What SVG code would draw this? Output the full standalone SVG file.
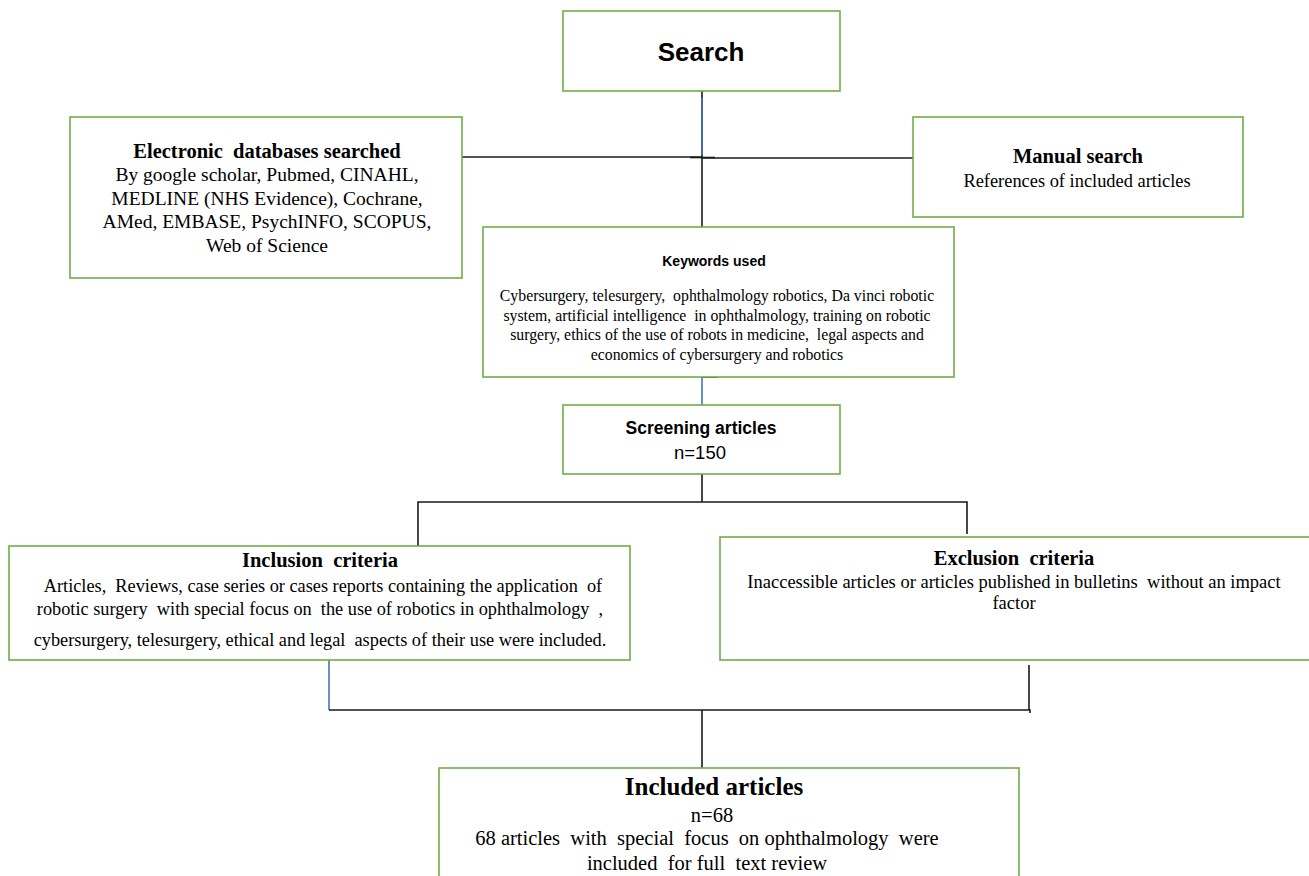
<svg xmlns="http://www.w3.org/2000/svg" width="1309" height="876" viewBox="0 0 1309 876">
  <style>
    .box { fill: #ffffff; stroke: #70ad47; stroke-width: 1.6; }
    .ln { stroke: #1a1a1a; stroke-width: 1.6; fill: none; }
    .blue { stroke: #4472c4; stroke-width: 1.6; fill: none; }
    .sans { font-family: "Liberation Sans", Arial, sans-serif; fill: #000; text-anchor: middle; }
    .serif { font-family: "Liberation Serif", "Times New Roman", serif; fill: #000; text-anchor: middle; }
    .b { font-weight: bold; }
  </style>
  <rect x="0" y="0" width="1309" height="876" fill="#ffffff"/>

  <g id="connectors">
    <line class="ln" x1="702" y1="91" x2="702" y2="227"/>
    <line class="blue" x1="702" y1="98" x2="702" y2="155"/>
    <line class="ln" x1="462" y1="157" x2="702" y2="157"/>
    <line class="ln" x1="702" y1="158" x2="913" y2="158"/>
    <line class="ln" x1="690" y1="157.5" x2="715" y2="157.5" stroke-width="2.4"/>
    <line class="blue" x1="702" y1="377" x2="702" y2="405"/>
    <line class="ln" x1="702" y1="377" x2="718" y2="377"/>
    <polyline class="ln" points="702,474 702,502"/>
    <polyline class="ln" points="418,546 418,502 967,502 967,534"/>
    <line class="blue" x1="329" y1="660" x2="329" y2="710"/>
    <polyline class="ln" points="329,710 1030,710 1030,713"/>
    <line class="ln" x1="1029" y1="665" x2="1029" y2="710"/>
    <line class="ln" x1="702" y1="710" x2="702" y2="768"/>
  </g>

  <g id="search">
    <rect class="box" x="563" y="11" width="277" height="80"/>
    <text class="sans b" x="701" y="61" font-size="26">Search</text>
  </g>

  <g id="electronic">
    <rect class="box" x="70" y="117" width="392" height="161"/>
    <text class="serif b" x="267" y="158" font-size="20.5" xml:space="preserve">Electronic  databases searched</text>
    <text class="serif" x="267" y="181" font-size="19.5">By google scholar, Pubmed, CINAHL,</text>
    <text class="serif" x="267" y="205" font-size="19.5">MEDLINE (NHS Evidence), Cochrane,</text>
    <text class="serif" x="267" y="228" font-size="19.5">AMed, EMBASE, PsychINFO, SCOPUS,</text>
    <text class="serif" x="267" y="252" font-size="19.5">Web of Science</text>
  </g>

  <g id="manual">
    <rect class="box" x="913" y="117" width="330" height="100"/>
    <text class="serif b" x="1078" y="163" font-size="20.5">Manual search</text>
    <text class="serif" x="1077" y="187" font-size="18.4">References of included articles</text>
  </g>

  <g id="keywords">
    <rect class="box" x="483" y="227" width="471" height="150"/>
    <text class="sans b" x="714" y="266" font-size="14">Keywords used</text>
    <text class="serif" x="717" y="301" font-size="15.8" xml:space="preserve">Cybersurgery, telesurgery,  ophthalmology robotics, Da vinci robotic</text>
    <text class="serif" x="717" y="321" font-size="15.8" xml:space="preserve">system, artificial intelligence  in ophthalmology, training on robotic</text>
    <text class="serif" x="717" y="340" font-size="15.8" xml:space="preserve">surgery, ethics of the use of robots in medicine,  legal aspects and</text>
    <text class="serif" x="717" y="360" font-size="15.8">economics of cybersurgery and robotics</text>
  </g>

  <g id="screening">
    <rect class="box" x="563" y="405" width="277" height="69"/>
    <text class="sans b" x="701" y="434" font-size="17.5">Screening articles</text>
    <text class="sans" x="700" y="459" font-size="18.5">n=150</text>
  </g>

  <g id="inclusion">
    <rect class="box" x="9" y="546" width="621" height="114"/>
    <text class="serif b" x="320" y="567" font-size="20.5" xml:space="preserve">Inclusion  criteria</text>
    <text class="serif" x="323" y="592" font-size="18.3" xml:space="preserve">Articles,  Reviews, case series or cases reports containing the application  of</text>
    <text class="serif" x="320" y="615" font-size="18.3" xml:space="preserve">robotic surgery  with special focus on  the use of robotics in ophthalmology  ,</text>
    <text class="serif" x="320" y="646" font-size="18.3" xml:space="preserve">cybersurgery, telesurgery, ethical and legal  aspects of their use were included.</text>
  </g>

  <g id="exclusion">
    <rect class="box" x="720" y="537" width="600" height="123"/>
    <text class="serif b" x="1014" y="565" font-size="20.5" xml:space="preserve">Exclusion  criteria</text>
    <text class="serif" x="1014" y="588" font-size="18.5" xml:space="preserve">Inaccessible articles or articles published in bulletins  without an impact</text>
    <text class="serif" x="1014" y="609" font-size="18.5">factor</text>
  </g>

  <g id="included">
    <rect class="box" x="439" y="768" width="580" height="120"/>
    <text class="serif b" x="714" y="795" font-size="25">Included articles</text>
    <text class="serif" x="712" y="822" font-size="20.5">n=68</text>
    <text class="serif" x="707" y="845" font-size="20.5" xml:space="preserve">68 articles  with  special  focus  on ophthalmology  were</text>
    <text class="serif" x="707" y="870" font-size="20.5" xml:space="preserve">included  for full  text review</text>
  </g>
</svg>
